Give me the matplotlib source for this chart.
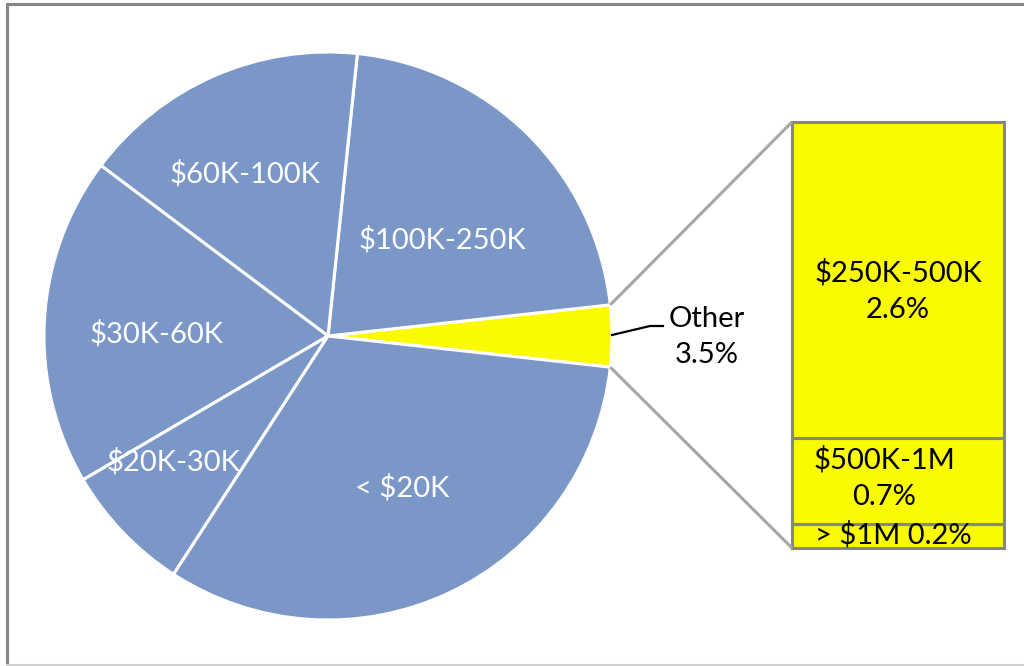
import numpy as np
import matplotlib
matplotlib.use('Agg')
import matplotlib.pyplot as plt

plt.rcParams['font.family'] = ['Lato', 'DejaVu Sans']

# Pie slices (counter-clockwise, starting with the "Other" slice)
pie_labels = ['Other', '$100K-250K', '$60K-100K', '$30K-60K', '$20K-30K', '< $20K']
pie_values = [3.5, 21.6, 16.4, 18.7, 7.4, 32.4]

# Breakdown of "Other" shown in the stacked bar (bottom to top)
bar_labels = ['> $1M 0.2%', '$500K-1M\n0.7%', '$250K-500K\n2.6%']
bar_values = [0.2, 0.7, 2.6]

BLUE = '#7A97C8'
YELLOW = '#FAFA00'
GRAY = '#A6A6A6'
BORDER = '#868686'

W, H = 1024, 666
fig = plt.figure(figsize=(W / 100, H / 100), dpi=100)
ax = fig.add_axes([0, 0, 1, 1])

cx, cy, r = 328, 330, 284
start = -pie_values[0] / 100 * 360 / 2
colors = [YELLOW] + [BLUE] * (len(pie_values) - 1)
wedges, _ = ax.pie(pie_values, colors=colors, startangle=start, counterclock=True,
                   center=(cx, cy), radius=r,
                   wedgeprops=dict(edgecolor='white', linewidth=2.2))

# pie slice labels (white)
label_pos = {
    '$100K-250K': (442, 426),
    '$60K-100K': (245, 492),
    '$30K-60K': (157, 332),
    '$20K-30K': (173, 204),
    '< $20K': (402, 178),
}
for name, (x, y) in label_pos.items():
    ax.text(x, y, name, ha='center', va='center', color='white', fontsize=21)

# stacked bar for the "Other" breakdown
bar_x, bar_w = 898, 212
bar_bottom, bar_total_h = 118, 426
scale = bar_total_h / sum(bar_values)
bottom = bar_bottom
bar_centers = []
for v in bar_values:
    h = v * scale
    ax.bar(bar_x, h, bottom=bottom, width=bar_w, color=YELLOW,
           edgecolor=BORDER, linewidth=2.2)
    bar_centers.append(bottom + h / 2)
    bottom += h

ax.text(893, bar_centers[0] + 1, bar_labels[0], ha='center', va='center', fontsize=21)
ax.text(884, bar_centers[1] + 3, bar_labels[1], ha='center', va='center', fontsize=21,
        linespacing=1.5)
ax.text(898, bar_centers[2] - 11, bar_labels[2], ha='center', va='center', fontsize=21,
        linespacing=1.5)

# connector lines from the "Other" wedge to the bar
w0 = wedges[0]
for ang, by in [(w0.theta2, bar_bottom + bar_total_h), (w0.theta1, bar_bottom)]:
    px = cx + r * np.cos(np.radians(ang))
    py = cy + r * np.sin(np.radians(ang))
    ax.plot([px, bar_x - bar_w / 2], [py, by], color=GRAY, linewidth=2.2,
            solid_capstyle='butt')

# "Other" label with leader line
ax.plot([612, 650, 663], [331, 340, 340], color='black', linewidth=1.6)
ax.text(707, 329, 'Other\n3.5%', ha='center', va='center', fontsize=21, linespacing=1.5)

# chart frame
ax.plot([7, 7], [1, 662], color=BORDER, linewidth=2.2, clip_on=False)
ax.plot([7, W], [662, 662], color=BORDER, linewidth=2.2, clip_on=False)
ax.plot([7, W], [1, 1], color='#D0D0D0', linewidth=1.5, clip_on=False)

ax.set_xlim(0, W)
ax.set_ylim(0, H)
ax.axis('off')

fig.savefig('out.png', dpi=100)
